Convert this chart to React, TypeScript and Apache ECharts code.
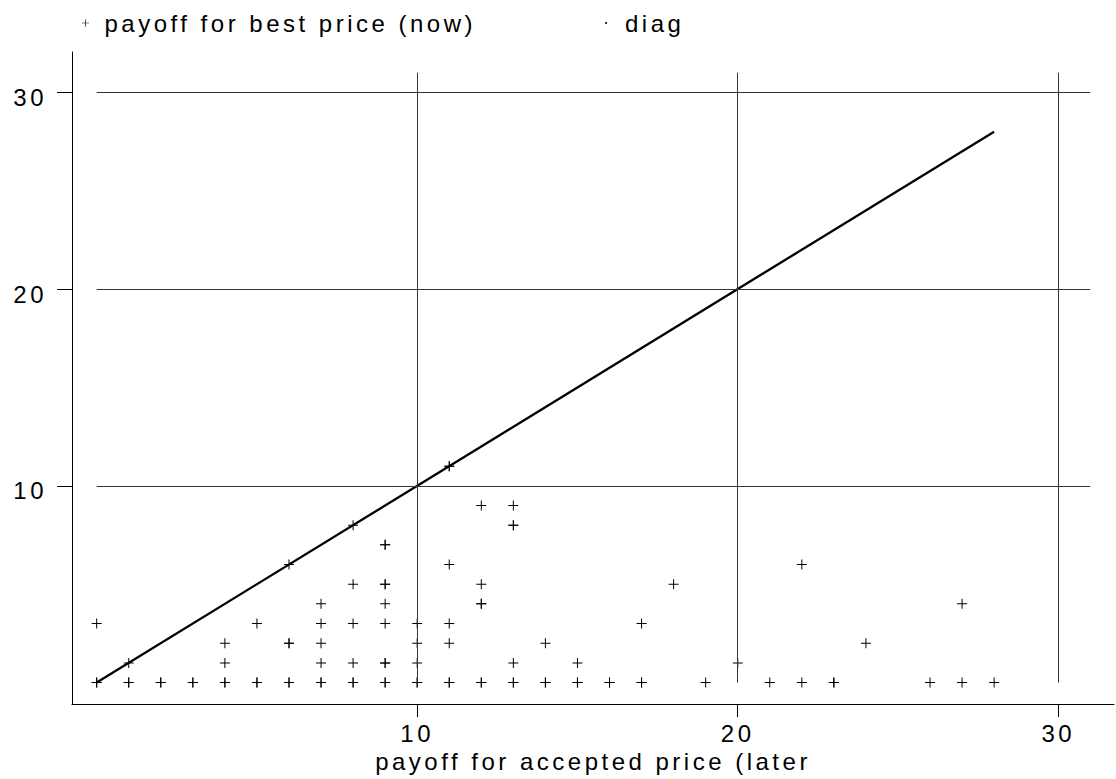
import React, { useEffect, useRef } from "react";
import * as echarts from "echarts";

// payoff for accepted price (later) -> x ; payoff for best price (now) -> y
const laterX = [
  0, 0, 1, 1, 2, 2, 3, 3, 4, 4, 5, 5, 6, 6, 7, 7, 8, 8, 9, 9, 10, 10, 11, 11, 12, 12, 13, 13, 14, 14, 15, 15, 16, 16, 17, 17, 19, 21, 22, 23, 23, 26, 27, 28,
  1, 4, 7, 8, 9, 9, 10, 13, 15, 20,
  4, 6, 6, 7, 10, 11, 14, 24,
  0, 5, 7, 8, 9, 10, 11, 17,
  7, 9, 12, 12, 27,
  8, 9, 9, 12, 18,
  6, 11, 22,
  9, 9,
  8, 13, 13,
  12, 13,
  11, 11,
];
const nowY = [
  0, 0, 0, 0, 0, 0, 0, 0, 0, 0, 0, 0, 0, 0, 0, 0, 0, 0, 0, 0, 0, 0, 0, 0, 0, 0, 0, 0, 0, 0, 0, 0, 0, 0, 0, 0, 0, 0, 0, 0, 0, 0, 0, 0,
  1, 1, 1, 1, 1, 1, 1, 1, 1, 1,
  2, 2, 2, 2, 2, 2, 2, 2,
  3, 3, 3, 3, 3, 3, 3, 3,
  4, 4, 4, 4, 4,
  5, 5, 5, 5, 5,
  6, 6, 6,
  7, 7,
  8, 8, 8,
  9, 9,
  11, 11,
];
const diagX = [0, 28];
const diagY = [0, 28];
const tickValues = [10, 20, 30];
const gridLineValues = [10, 20, 30];
const gridLineEnd = 31;

const seriesNames = ["payoff for best price (now)", "diag"];
const xTitle = "payoff for accepted price (later";

const PLUS = "path://M0,4.5L10,4.5L10,5.5L0,5.5Z M4.5,0L5.5,0L5.5,10L4.5,10Z";
const FONT = "'Liberation Sans', Arial, Helvetica, sans-serif";

export default function App() {
  const ref = useRef<HTMLDivElement>(null);
  useEffect(() => {
    if (!ref.current) return;
    const chart = echarts.init(ref.current, null, { renderer: "svg" });
    const points = laterX.map((x, i) => [x, nowY[i]]);
    const diag = diagX.map((x, i) => [x, diagY[i]]);
    const gridLines: any[] = [];
    gridLineValues.forEach((v) => {
      gridLines.push([{ coord: [0, v] }, { coord: [gridLineEnd, v] }]);
      gridLines.push([{ coord: [v, 0] }, { coord: [v, gridLineEnd] }]);
    });
    const textStyle = { color: "#000", fontFamily: FONT, fontSize: 24 };
    chart.setOption({
      animation: false,
      backgroundColor: "#fff",
      textStyle: { fontFamily: FONT },
      legend: [
        {
          left: 82,
          top: 11,
          padding: 0,
          itemWidth: 28,
          itemHeight: 7,
          selectedMode: false,
          data: [{ name: seriesNames[0], icon: PLUS }],
          itemStyle: { color: "#000" },
          textStyle,
        },
        {
          left: 605,
          top: 11,
          padding: 0,
          itemWidth: 28,
          itemHeight: 2,
          selectedMode: false,
          data: [{ name: seriesNames[1], icon: "circle" }],
          itemStyle: { color: "#000" },
          textStyle,
        },
      ],
      grid: { left: 72, right: 2, top: 52, bottom: 75, containLabel: false },
      xAxis: {
        type: "value",
        min: -0.77,
        max: 31.74,
        name: xTitle,
        nameLocation: "middle",
        nameGap: 43,
        nameTextStyle: textStyle,
        axisLine: { show: true, onZero: false, lineStyle: { color: "#000", width: 1 } },
        axisTick: { show: true, length: 13, customValues: tickValues, lineStyle: { color: "#000" } },
        axisLabel: { show: true, customValues: tickValues, margin: 17, ...textStyle },
        splitLine: { show: false },
      },
      yAxis: {
        type: "value",
        min: -1.09,
        max: 32.05,
        axisLine: { show: true, onZero: false, lineStyle: { color: "#000", width: 1 } },
        axisTick: { show: true, length: 15, customValues: tickValues, lineStyle: { color: "#000" } },
        axisLabel: {
          show: true,
          customValues: tickValues,
          margin: 25,
          verticalAlign: "top",
          lineHeight: 10,
          ...textStyle,
        },
        splitLine: { show: false },
      },
      series: [
        {
          name: "grid",
          type: "line",
          data: [],
          z: 1,
          silent: true,
          markLine: {
            silent: true,
            symbol: ["none", "none"],
            label: { show: false },
            animation: false,
            lineStyle: { color: "#333", width: 1, type: "solid" },
            emphasis: { disabled: true },
            data: gridLines,
          },
        },
        {
          name: seriesNames[1],
          type: "line",
          data: diag,
          z: 3,
          showSymbol: false,
          symbol: "circle",
          symbolSize: 2,
          itemStyle: { color: "#000" },
          lineStyle: { color: "#000", width: 2.3 },
          silent: true,
        },
        {
          name: seriesNames[0],
          type: "scatter",
          data: points,
          z: 4,
          symbol: PLUS,
          symbolSize: 10,
          itemStyle: { color: "#000", opacity: 1 },
          silent: true,
        },
      ],
    });
    return () => chart.dispose();
  }, []);
  return (
    <div
      ref={ref}
      style={{ position: "absolute", left: 0, top: 0, width: 1116, height: 779, letterSpacing: "3.5px" }}
    />
  );
}
